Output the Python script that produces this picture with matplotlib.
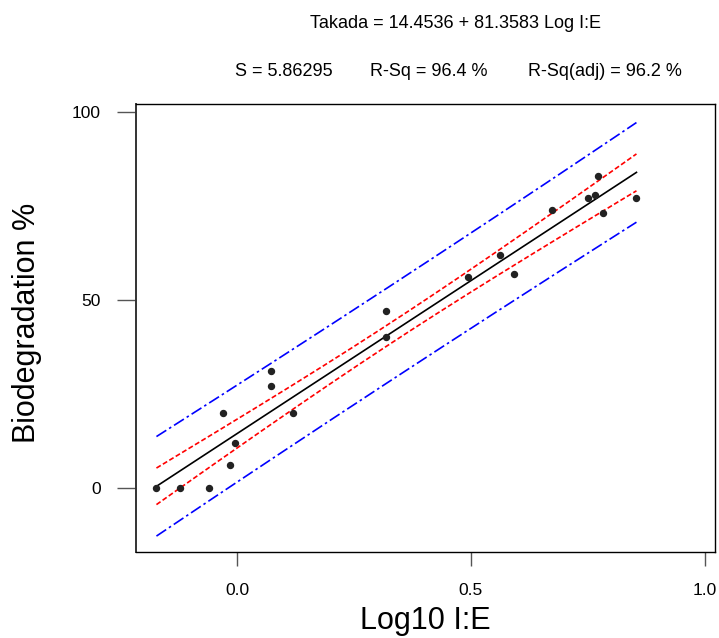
import numpy as np
import matplotlib
matplotlib.use('Agg')
import matplotlib.pyplot as plt

plt.rcParams['font.family'] = ['Liberation Sans', 'DejaVu Sans']

#%% Dades: log10 I:E vs biodegradació (%)
logIE = np.array([-0.173, -0.123, -0.060, -0.030, -0.016, -0.004, 0.072, 0.072,
                  0.120, 0.319, 0.319, 0.494, 0.563, 0.591, 0.673, 0.751,
                  0.765, 0.772, 0.783, 0.854])
biodeg = np.array([0, 0, 0, 20, 6, 12, 31, 27, 20, 47, 40, 56, 62, 57, 74, 77,
                   78, 83, 73, 77])

b0 = 14.4536
b1 = 81.3583
S = 5.86295
Rsq = 96.4
Rsq_adj = 96.2
t975 = 2.10092  # t(0.975, n-2) amb n=20

#%% Recta ajustada i bandes de confiança / predicció (95%)
n = len(logIE)
xm = logIE.mean()
Sxx = np.sum((logIE - xm)**2)
xx = np.linspace(logIE.min(), logIE.max(), 200)
yfit = b0 + b1*xx
ci = t975*S*np.sqrt(1/n + (xx - xm)**2/Sxx)
pi = t975*S*np.sqrt(1 + 1/n + (xx - xm)**2/Sxx)

fig = plt.figure(figsize=(7.19, 6.38), dpi=100)
ax = fig.add_axes([135.7/719, 1 - 552/638, (715.3 - 135.7)/719, (552 - 104)/638])

ax.plot(xx, yfit, color='black', lw=1.2)
ax.plot(xx, yfit + ci, color='red', lw=1.2, ls=(0, (3, 1.5)))
ax.plot(xx, yfit - ci, color='red', lw=1.2, ls=(0, (3, 1.5)))
ax.plot(xx, yfit + pi, color='blue', lw=1.2, ls=(0, (7, 2, 1.5, 2)))
ax.plot(xx, yfit - pi, color='blue', lw=1.2, ls=(0, (7, 2, 1.5, 2)))
ax.plot(logIE, biodeg, 'o', color='#222222', ms=4.3, zorder=5)

ax.set_xlim(-0.2174, 1.0227)
ax.set_ylim(-17.1, 102.13)
ax.set_xticks([0.0, 0.5, 1.0])
ax.set_xticklabels(['0.0', '0.5', '1.0'])
ax.set_yticks([0, 50, 100])
ax.tick_params(axis='x', length=10, width=1, color='#555555', pad=12,
               labelsize=12.5)
ax.tick_params(axis='y', length=14, width=1, color='#555555', pad=11,
               labelsize=12.5)
for sp in ax.spines.values():
    sp.set_color('black')
    sp.set_linewidth(1.0)
ax.spines['left'].set_color('#333333')
ax.spines['left'].set_linewidth(1.4)

fig.text(425.5/719, 1 - 621/638, 'Log10 I:E', ha='center', va='center',
         fontsize=22)
fig.text(27/719, 1 - 323/638, 'Biodegradation %', ha='center', va='center',
         rotation=90, fontsize=22)

fig.text(455.7/719, 1 - 23/638, 'Takada = %.4f + %.4f Log I:E' % (b0, b1),
         ha='center', va='center', fontsize=13)
fig.text(235/719, 1 - 72/638, 'S = %.5f' % S, ha='left', va='center',
         fontsize=13)
fig.text(370/719, 1 - 72/638, 'R-Sq = %.1f %%' % Rsq, ha='left', va='center',
         fontsize=13)
fig.text(528/719, 1 - 72/638, 'R-Sq(adj) = %.1f %%' % Rsq_adj, ha='left',
         va='center', fontsize=13)

fig.savefig('out.png', dpi=100)
